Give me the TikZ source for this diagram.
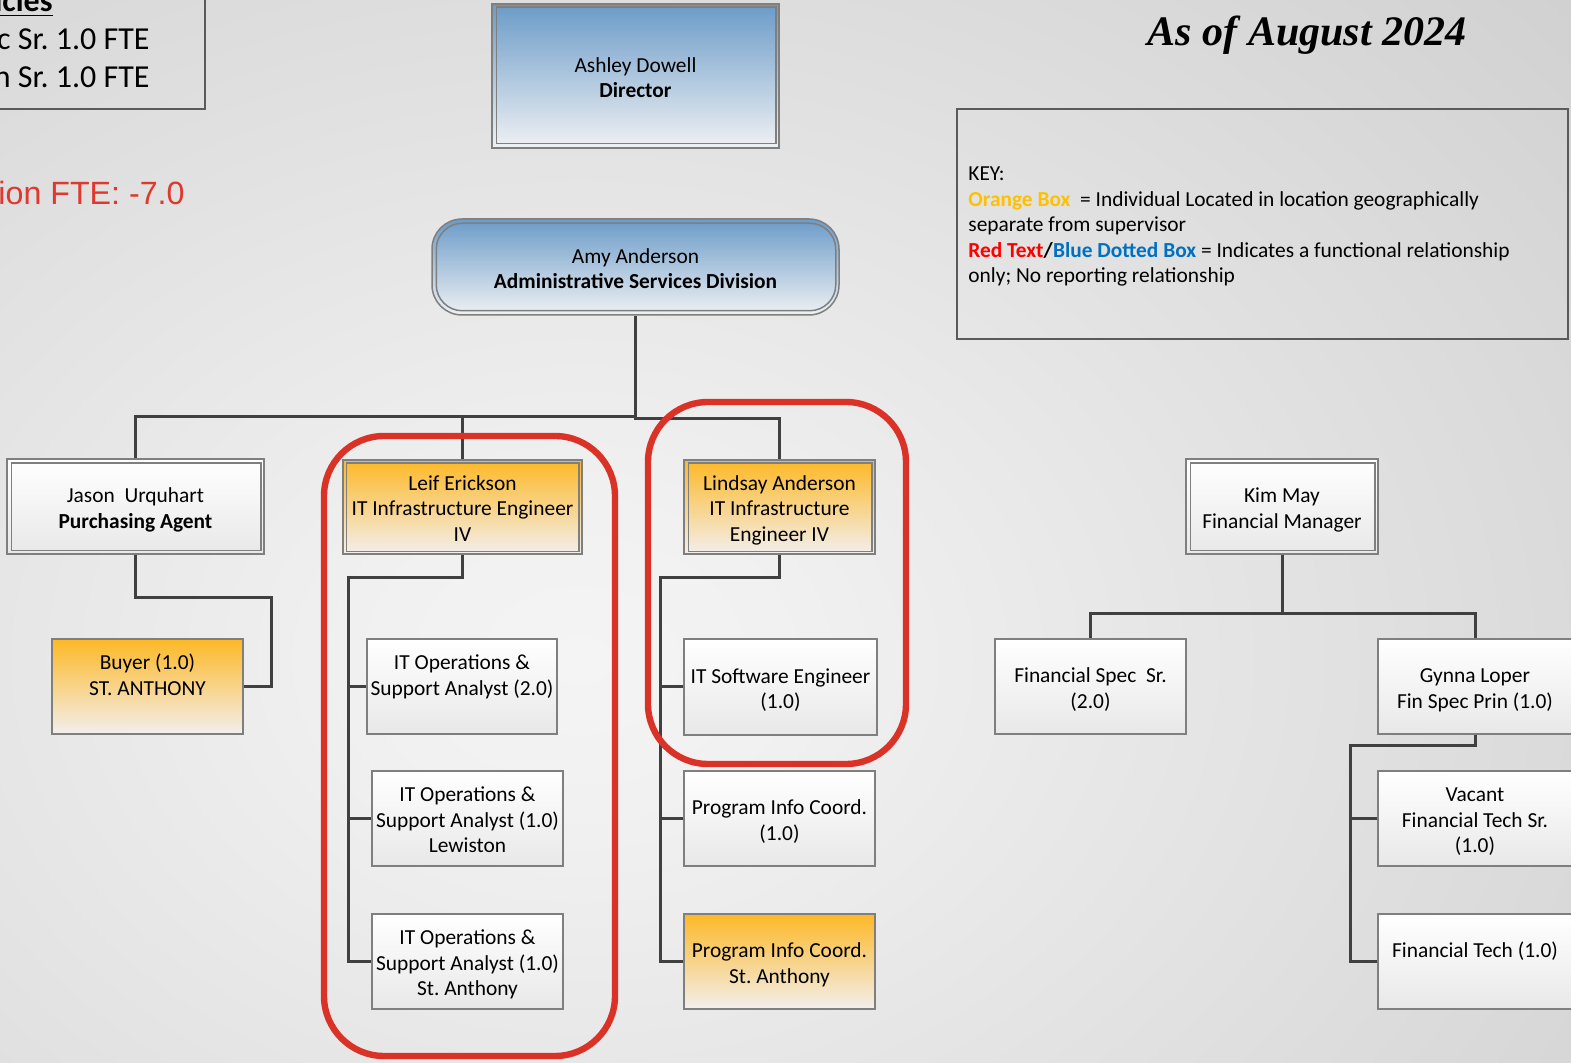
\documentclass[tikz,border=0pt]{standalone}
\usepackage{fontspec}
\setmainfont{Carlito}
\newfontfamily\arialfont{Liberation Sans}
\newfontfamily\timesfont{Liberation Serif}
\usetikzlibrary{calc}
\frenchspacing

\definecolor{bgin}{HTML}{F4F4F4}
\definecolor{bgmid}{HTML}{F1F1F1}
\definecolor{bgedge}{HTML}{C0C0C0}
\definecolor{bgout}{HTML}{B8B8B8}
\definecolor{boxline}{HTML}{7F7F7F}
\definecolor{boxbot}{HTML}{E8E8E8}
\definecolor{blueTop}{HTML}{6B9BC8}
\definecolor{blueBot}{HTML}{EFF1F4}
\definecolor{orTop}{HTML}{FDB826}
\definecolor{orBot}{HTML}{F3EFED}
\definecolor{connc}{HTML}{404040}
\definecolor{loopred}{HTML}{DA3226}
\definecolor{fteRed}{HTML}{E0382C}
\definecolor{keyorange}{HTML}{FFC000}
\definecolor{keyred}{HTML}{FF0000}
\definecolor{keyblue}{HTML}{0070C0}
\definecolor{keyline}{HTML}{5A5A5A}

\pgfdeclareradialshading{pagebg}{\pgfpoint{0bp}{0bp}}{color(0bp)=(bgin); color(5bp)=(bgmid); color(48bp)=(bgedge); color(72bp)=(bgout)}

% fixed height above the first line and depth below the last one,
% so every box centres its lines the same way
\newcommand{\topstrut}{\rule{0pt}{11.8pt}}
\newcommand{\botstrut}{\rule[-3pt]{0pt}{3pt}}
\newcommand{\bt}[1]{\topstrut#1\botstrut}

\tikzset{
  sz/.style 2 args={minimum width=#1*0.5pt, minimum height=#2*0.5pt},
  orgbox/.style={draw=boxline, line width=0.75pt, inner sep=0pt, align=center,
    font=\fontsize{10.7}{12.75}\selectfont, top color=white, bottom color=boxbot},
  bluebox/.style={orgbox, top color=blueTop, bottom color=blueBot},
  orangebox/.style={orgbox, top color=orTop, bottom color=orBot},
  innerframe/.style={draw=boxline, line width=0.75pt},
  conn/.style={draw=connc, line width=1.5pt},
  redloop/.style={draw=loopred, line width=3.2pt, rounded corners=30pt},
  keytext/.style={anchor=base west, inner sep=0pt, font=\fontsize{10.7}{12.75}\selectfont},
  bigtext/.style={anchor=base east, inner sep=0pt, font=\fontsize{16}{19}\selectfont},
}

\begin{document}
\begin{tikzpicture}[x=0.5pt,y=-0.5pt]
\useasboundingbox (0,0) rectangle (1571,1063);
\clip (0,0) rectangle (1571,1063);

% page background
\fill[shading=pagebg] (-420,-90) rectangle (1580,1410);

% vacancy box in the upper left corner
\node[draw=keyline, line width=0.75pt, sz={225}{129}, inner sep=0pt] (vacbox) at (92.5,44.5) {};
\node[bigtext] (vac0) at (53,12) {\underline{\textbf{icies}}};
\node[bigtext] (vac1) at (150,50) {c Sr. 1.0 FTE};
\node[bigtext] (vac2) at (150,88) {n Sr. 1.0 FTE};
\node[anchor=base east, inner sep=0pt, text=fteRed, font=\arialfont\fontsize{16.1}{19}\selectfont] (fte) at (185,205) {ion FTE: -7.0};

% date
\node[anchor=base, inner sep=0pt, font=\timesfont\bfseries\itshape\fontsize{21}{25}\selectfont] (date) at (1307,46) {As of August 2024};

% key
\node[draw=keyline, line width=0.75pt, sz={611}{230}, inner sep=0pt] (keybox) at (1262.5,224) {};
\node[keytext] (k1) at (968,181) {KEY:};
\node[keytext] (k2) at (968,207) {\textcolor{keyorange}{\textbf{Orange Box}}\ \ = Individual Located in location geographically};
\node[keytext] (k3) at (968,232) {separate from supervisor};
\node[keytext] (k4) at (968,258) {\textcolor{keyred}{\textbf{Red Text}}\textbf{/}\textcolor{keyblue}{\textbf{Blue Dotted Box}} = Indicates a functional relationship};
\node[keytext] (k5) at (968,283) {only; No reporting relationship};

% boxes
\node[bluebox, sz={287}{144}] (dir) at (635.5,76) {\bt{Ashley Dowell\\\textbf{Director}}};
\draw[innerframe] ([shift={(5,4)}]dir.north west) rectangle ([shift={(-4,-5)}]dir.south east);

\node[bluebox, sz={407}{96}, rounded corners=15pt] (amy) at (635.5,267) {\bt{Amy Anderson\\\textbf{Administrative Services Division}}};
\draw[innerframe, rounded corners=13pt] ([shift={(5,5)}]amy.north west) rectangle ([shift={(-4,-5)}]amy.south east);

\node[orgbox, sz={257}{95}] (jason) at (135.5,506.5) {\bt{Jason\ \ Urquhart\\\textbf{Purchasing Agent}}};
\draw[innerframe] ([shift={(5,5)}]jason.north west) rectangle ([shift={(-4,-4)}]jason.south east);

\node[orangebox, sz={191}{95}] (buyer) at (147.5,686.5) {\bt{Buyer (1.0)\\ST. ANTHONY\\\mbox{}}};

\node[orangebox, sz={239}{94}] (leif) at (462.5,507) {\bt{Leif Erickson\\IT Infrastructure Engineer\\IV}};
\draw[innerframe] ([shift={(4,4)}]leif.north west) rectangle ([shift={(-4,-3)}]leif.south east);

\node[orgbox, sz={190}{95}] (ops1) at (462,686.5) {\bt{IT Operations \&\\Support Analyst (2.0)\\\mbox{}}};
\node[orgbox, sz={191}{95}] (ops2) at (467.5,818.5) {\bt{IT Operations \&\\Support Analyst (1.0)\\Lewiston}};
\node[orgbox, sz={191}{95}] (ops3) at (467.5,961.5) {\bt{IT Operations \&\\Support Analyst (1.0)\\St. Anthony}};

\node[orangebox, sz={191}{94}] (lind) at (779.5,507) {\bt{Lindsay Anderson\\IT Infrastructure\\Engineer IV}};
\draw[innerframe] ([shift={(5,4)}]lind.north west) rectangle ([shift={(-4,-3)}]lind.south east);

\node[orgbox, sz={193}{96}] (swe) at (780.5,687) {\bt{IT Software Engineer\\(1.0)}};
\node[orgbox, sz={191}{95}] (pic1) at (779.5,818.5) {\bt{Program Info Coord.\\(1.0)}};
\node[orangebox, sz={191}{95}] (pic2) at (779.5,961.5) {\bt{Program Info Coord.\\St. Anthony}};

\node[orgbox, sz={192}{95}] (kim) at (1282,506.5) {\bt{Kim May\\Financial Manager}};
\draw[innerframe] ([shift={(5,5)}]kim.north west) rectangle ([shift={(-4,-4)}]kim.south east);

\node[orgbox, sz={191}{95}] (fss) at (1090.5,686.5) {\bt{Financial Spec\ \ Sr.\\(2.0)}};
\node[orgbox, sz={194}{95}] (gyn) at (1475,686.5) {\bt{Gynna Loper\\Fin Spec Prin (1.0)}};
\node[orgbox, sz={194}{95}] (vac) at (1475,818.5) {\bt{Vacant\\Financial Tech Sr.\\(1.0)}};
\node[orgbox, sz={194}{95}] (ft) at (1475,961.5) {\bt{Financial Tech (1.0)\\\mbox{}}};

% connectors
\coordinate (busL) at (635.5,417);
\coordinate (busR) at (635.5,419);
\draw[conn] (amy.south) -- (busR) -| (lind.north);
\draw[conn] (jason.north) |- (busL);
\draw[conn] (leif.north) -- (leif.north |- busL);

\coordinate (jb) at (271,598);
\draw[conn] (jason.south) |- (jb) |- (buyer.east);

\coordinate (lb) at (348,578);
\draw[conn] (leif.south) |- (lb) |- (ops3.west);
\draw[conn] (ops1.west) -- (ops1.west -| lb);
\draw[conn] (ops2.west) -- (ops2.west -| lb);

\coordinate (nb) at (660,578);
\draw[conn] (lind.south) |- (nb) |- (pic2.west);
\draw[conn] (swe.west) -- (swe.west -| nb);
\draw[conn] (pic1.west) -- (pic1.west -| nb);

\coordinate (kb) at (1282,614);
\draw[conn] (kim.south) -- (kb);
\draw[conn] (fss.north) |- (kb);
\draw[conn] (gyn.north) |- (kb);

\coordinate (gb) at (1350,746);
\draw[conn] (gyn.south) |- (gb) |- (ft.west);
\draw[conn] (vac.west) -- (vac.west -| gb);

% red outlines
\draw[redloop] (324,436) rectangle (615,1056);
\draw[redloop] (648,402) rectangle (906,764);

\end{tikzpicture}
\end{document}
